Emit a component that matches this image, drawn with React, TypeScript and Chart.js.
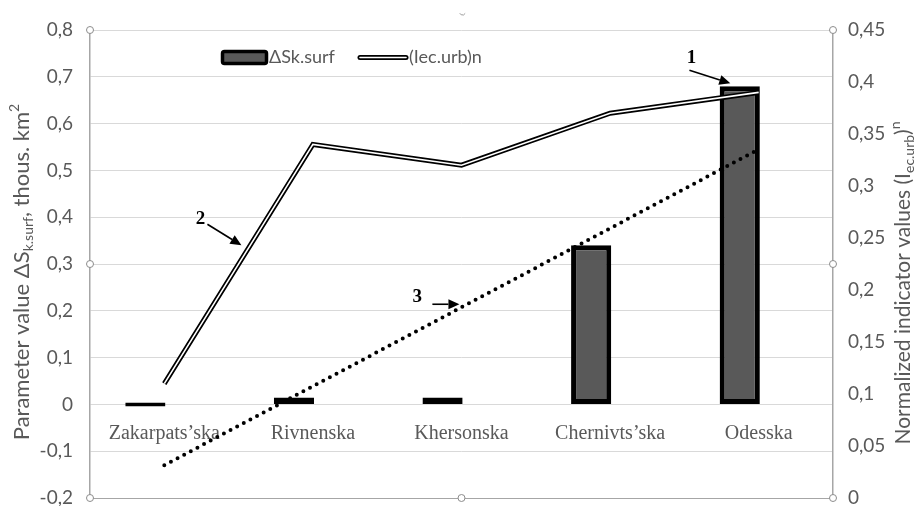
import React, { useEffect, useRef } from 'react';
import { Chart, registerables } from 'chart.js';

Chart.register(...registerables);

// Regions along the category axis
const regions = ['Zakarpats’ska', 'Rivnenska', 'Khersonska', 'Chernivts’ska', 'Odesska'];
// ΔSk.surf, thous. km² (left axis, bars)
const surfaceChange = [0, 0.015, 0.015, 0.34, 0.68];
// normalized (Iec.urb)n (right axis, double line)
const urbanIndex = [0.11, 0.34, 0.32, 0.37, 0.39];
// linear trend of ΔSk.surf, end points only (dotted line)
const surfaceTrend = [-0.13, null, null, null, 0.545];
// axis ranges and tick steps
const leftAxis = { min: -0.2, max: 0.8, step: 0.1 };
const rightAxis = { min: 0, max: 0.45, step: 0.05 };
const legendLabels = ['ΔSk.surf', '(Iec.urb)n'];
// numbered callouts, positions as [category index, left-axis value]
const callouts = [
  { label: '1', text: [3.547, 0.739], tail: [3.534, 0.714], tip: [3.809, 0.686] },
  { label: '2', text: [0.243, 0.397], tail: [0.29, 0.385], tip: [0.519, 0.34] },
  { label: '3', text: [1.703, 0.229], tail: [1.804, 0.214], tip: [1.986, 0.214] },
];

const SANS = 'Lato, "Open Sans", sans-serif';
const SERIF = '"Liberation Serif", "DejaVu Serif", serif';
const GREY_TEXT = '#595959';

const fmt = (v: number) => String(Math.round(v * 100) / 100).replace('.', ',');

type Seg = { text: string; size: number; dy: number };

function drawRich(ctx: CanvasRenderingContext2D, segs: Seg[], cx: number, cy: number, angle: number) {
  ctx.save();
  ctx.translate(cx, cy);
  ctx.rotate(angle);
  ctx.fillStyle = GREY_TEXT;
  ctx.textBaseline = 'middle';
  ctx.textAlign = 'left';
  let total = 0;
  const widths = segs.map((s) => {
    ctx.font = `${s.size}px ${SANS}`;
    const w = ctx.measureText(s.text).width;
    total += w;
    return w;
  });
  let x = -total / 2;
  segs.forEach((s, i) => {
    ctx.font = `${s.size}px ${SANS}`;
    ctx.fillText(s.text, x, s.dy);
    x += widths[i];
  });
  ctx.restore();
}

function arrow(ctx: CanvasRenderingContext2D, x1: number, y1: number, x2: number, y2: number) {
  const ang = Math.atan2(y2 - y1, x2 - x1);
  const head = 11;
  const half = 5;
  const bx = x2 - head * Math.cos(ang);
  const by = y2 - head * Math.sin(ang);
  ctx.beginPath();
  ctx.moveTo(x1, y1);
  ctx.lineTo(bx, by);
  ctx.strokeStyle = '#000';
  ctx.lineWidth = 1.6;
  ctx.stroke();
  ctx.beginPath();
  ctx.moveTo(x2, y2);
  ctx.lineTo(bx + half * Math.sin(ang), by - half * Math.cos(ang));
  ctx.lineTo(bx - half * Math.sin(ang), by + half * Math.cos(ang));
  ctx.closePath();
  ctx.fillStyle = '#000';
  ctx.fill();
}

const decorations = {
  id: 'decorations',
  afterDraw(chart: any) {
    const { ctx, chartArea: a, scales } = chart;
    const xs = scales.x;
    const ys = scales.y;

    // plot-area frame handles
    const midX = (a.left + a.right) / 2;
    const midY = (a.top + a.bottom) / 2;
    const handles = [
      [a.left, a.top], [a.left, midY], [a.left, a.bottom],
      [a.right, a.top], [a.right, midY], [a.right, a.bottom],
      [midX, a.bottom],
    ];
    ctx.save();
    handles.forEach(([hx, hy]) => {
      ctx.beginPath();
      ctx.arc(hx, hy, 3.5, 0, Math.PI * 2);
      ctx.fillStyle = '#fff';
      ctx.fill();
      ctx.strokeStyle = '#8c8c8c';
      ctx.lineWidth = 1;
      ctx.stroke();
    });
    ctx.beginPath();
    ctx.arc(midX + 1, 12, 3, 0.15 * Math.PI, 0.85 * Math.PI);
    ctx.strokeStyle = '#9a9a9a';
    ctx.stroke();
    ctx.restore();

    // legend
    ctx.save();
    const ly = 57.5;
    ctx.beginPath();
    ctx.roundRect(222.5, 51.5, 44, 12, 2);
    ctx.fillStyle = '#595959';
    ctx.fill();
    ctx.lineWidth = 3.5;
    ctx.strokeStyle = '#000';
    ctx.stroke();
    ctx.font = `18px ${SANS}`;
    ctx.fillStyle = GREY_TEXT;
    ctx.textBaseline = 'middle';
    ctx.textAlign = 'left';
    ctx.fillText(legendLabels[0], 269, ly);
    ctx.lineCap = 'round';
    ctx.beginPath();
    ctx.moveTo(360, ly);
    ctx.lineTo(406, ly);
    ctx.lineWidth = 5;
    ctx.strokeStyle = '#000';
    ctx.stroke();
    ctx.beginPath();
    ctx.moveTo(360, ly);
    ctx.lineTo(406, ly);
    ctx.lineWidth = 1.6;
    ctx.strokeStyle = '#fff';
    ctx.stroke();
    ctx.fillText(legendLabels[1], 409, ly);
    ctx.restore();

    // axis titles
    drawRich(ctx, [
      { text: 'Parameter value ΔS', size: 22, dy: 0 },
      { text: 'k.surf', size: 14, dy: 6 },
      { text: ', thous. km', size: 22, dy: 0 },
      { text: '2', size: 14, dy: -8 },
    ], 22, 272, -Math.PI / 2);
    drawRich(ctx, [
      { text: 'Normalized indicator values (I', size: 21, dy: 0 },
      { text: 'ec.urb', size: 14, dy: 6 },
      { text: ')', size: 21, dy: 0 },
      { text: 'n', size: 14, dy: -8 },
    ], 903, 283, -Math.PI / 2);

    // numbered callouts
    ctx.save();
    callouts.forEach((c) => {
      const px = (p: number[]) => [xs.getPixelForValue(p[0]), ys.getPixelForValue(p[1])];
      const [tx, ty] = px(c.text);
      const [ax, ay] = px(c.tail);
      const [bx, by] = px(c.tip);
      ctx.font = `bold 19px ${SERIF}`;
      ctx.fillStyle = '#000';
      ctx.textAlign = 'center';
      ctx.textBaseline = 'middle';
      ctx.fillText(c.label, tx, ty);
      arrow(ctx, ax, ay, bx, by);
    });
    ctx.restore();
  },
};

// keep the plot frame fixed: no label overflow padding from the axes
const noPadding = (s: any) => {
  s.paddingTop = 0;
  s.paddingBottom = 0;
  s.paddingLeft = 0;
  s.paddingRight = 0;
};

export default function App() {
  const ref = useRef<HTMLCanvasElement | null>(null);

  useEffect(() => {
    if (!ref.current) return;
    const barShape = { categoryPercentage: 0.51, barPercentage: 1.06 };
    const chart = new Chart(ref.current, {
      type: 'bar',
      data: {
        labels: regions,
        datasets: [
          {
            type: 'bar',
            label: legendLabels[0],
            data: surfaceChange,
            yAxisID: 'y',
            backgroundColor: '#595959',
            borderColor: '#000',
            borderWidth: 5,
            borderSkipped: false,
            minBarLength: 4,
            order: 5,
            ...barShape,
          },
          {
            type: 'bar',
            label: '',
            data: regions.map(() => null),
            yAxisID: 'y',
            order: 6,
            ...barShape,
          },
          {
            type: 'line',
            label: 'trend',
            data: surfaceTrend,
            yAxisID: 'y',
            borderColor: '#000',
            borderWidth: 4,
            borderDash: [0, 7.5],
            borderCapStyle: 'round',
            pointRadius: 0,
            spanGaps: true,
            fill: false,
            order: 3,
          },
          {
            type: 'line',
            label: legendLabels[1],
            data: urbanIndex,
            yAxisID: 'y1',
            borderColor: '#000',
            borderWidth: 5,
            borderJoinStyle: 'miter',
            pointRadius: 0,
            fill: false,
            order: 2,
          },
          {
            type: 'line',
            label: 'core',
            data: urbanIndex,
            yAxisID: 'y1',
            borderColor: '#fff',
            borderWidth: 1.6,
            borderJoinStyle: 'miter',
            pointRadius: 0,
            fill: false,
            order: 1,
          },
        ] as any,
      },
      options: {
        responsive: false,
        animation: false,
        layout: { padding: { top: 30, bottom: 8, left: 0, right: 0 } },
        plugins: { legend: { display: false }, tooltip: { enabled: false }, title: { display: false } },
        scales: {
          x: {
            type: 'category',
            position: { y: 0 } as any,
            offset: true,
            grid: { display: false, drawTicks: false },
            border: { display: false },
            ticks: { color: GREY_TEXT, font: { family: SERIF, size: 20 }, padding: 17, maxRotation: 0, autoSkip: false },
            afterFit: (s: any) => { s.height = 0; noPadding(s); },
          },
          y: {
            position: 'left',
            min: leftAxis.min,
            max: leftAxis.max,
            ticks: { stepSize: leftAxis.step, color: GREY_TEXT, font: { family: SANS, size: 19 }, padding: 17, callback: (v: any) => fmt(Number(v)) },
            grid: {
              drawTicks: false,
              lineWidth: 1,
              color: (c: any) => (c.tick && Math.abs(c.tick.value - leftAxis.min) < 1e-6 ? '#a6a6a6' : '#d9d9d9'),
            },
            border: { display: true, color: '#a6a6a6', width: 1.5 },
            afterFit: (s: any) => { s.width = 90; noPadding(s); },
          },
          y1: {
            position: 'right',
            min: rightAxis.min,
            max: rightAxis.max,
            ticks: { stepSize: rightAxis.step, color: GREY_TEXT, font: { family: SANS, size: 19 }, padding: 15, callback: (v: any) => fmt(Number(v)) },
            grid: { drawOnChartArea: false, drawTicks: false },
            border: { display: true, color: '#a6a6a6', width: 1.5 },
            afterFit: (s: any) => { s.width = 88; noPadding(s); },
          },
        },
      } as any,
      plugins: [decorations],
    });
    return () => chart.destroy();
  }, []);

  return (
    <div style={{ position: 'fixed', left: 0, top: 0, width: 921, height: 506, background: '#fff' }}>
      <canvas ref={ref} width={921} height={506} style={{ display: 'block' }} />
    </div>
  );
}
